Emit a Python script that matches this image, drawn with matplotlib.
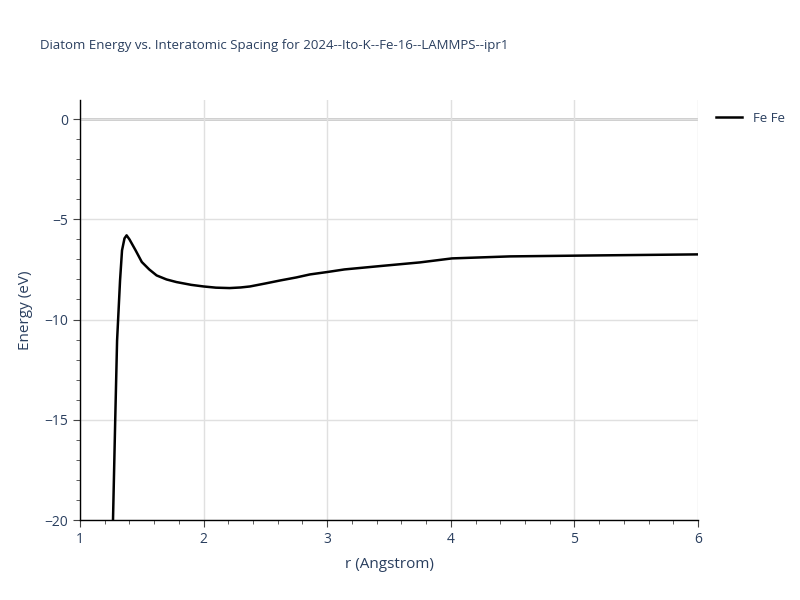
import matplotlib.pyplot as plt
from matplotlib.ticker import MultipleLocator

r = [1.267, 1.285, 1.30, 1.324, 1.34, 1.36, 1.377, 1.40, 1.45, 1.50, 1.56, 1.62,
     1.70, 1.78, 1.90, 2.00, 2.10, 2.21, 2.30, 2.375, 2.50, 2.62, 2.75, 2.86,
     3.00, 3.14, 3.45, 3.75, 4.01, 4.48, 5.20, 6.00]
energy = [-20.0, -15.0, -11.05, -8.05, -6.55, -5.95, -5.8, -6.0, -6.55, -7.13,
          -7.5, -7.8, -8.0, -8.13, -8.27, -8.35, -8.41, -8.43, -8.4, -8.35,
          -8.2, -8.05, -7.9, -7.75, -7.63, -7.5, -7.32, -7.15, -6.95, -6.85,
          -6.8, -6.75]

text_col = '#2a3f5f'
plt.rcParams['font.family'] = ['Open Sans', 'DejaVu Sans']

fig = plt.figure(figsize=(8, 6), dpi=100)
ax = fig.add_axes([0.1, 0.1333, 0.7725, 0.7])

ax.plot(r, energy, color='black', linewidth=1.8, label='Fe Fe', zorder=3)
ax.axhline(0, color='#c8c8c8', linewidth=2, zorder=1)

ax.set_xlim(1, 6)
ax.set_ylim(-20, 0.95)
ax.xaxis.set_major_locator(MultipleLocator(1))
ax.xaxis.set_minor_locator(MultipleLocator(0.2))
ax.yaxis.set_major_locator(MultipleLocator(5))
ax.yaxis.set_minor_locator(MultipleLocator(1))
ax.grid(True, which='major', color='#e0e0e0', linewidth=1, zorder=0)

for s in ['top', 'right']:
    ax.spines[s].set_visible(False)
for s in ['left', 'bottom']:
    ax.spines[s].set_color('black')
    ax.spines[s].set_linewidth(1)

ax.tick_params(which='major', direction='out', length=5, color='#444444',
               labelcolor=text_col, labelsize=10)
ax.tick_params(which='minor', direction='out', length=3, color='#444444')

ax.set_xlabel('r (Angstrom)', color=text_col, fontsize=11, labelpad=7)
ax.set_ylabel('Energy (eV)', color=text_col, fontsize=11, labelpad=8)
fig.text(0.05, 0.925, 'Diatom Energy vs. Interatomic Spacing for 2024--Ito-K--Fe-16--LAMMPS--ipr1',
         color=text_col, fontsize=9.5, va='center')

ax.legend(loc='upper left', bbox_to_anchor=(1.01, 1.0), frameon=False,
          labelcolor=text_col, fontsize=9.5, handlelength=2)

fig.savefig('out.png', dpi=100)
